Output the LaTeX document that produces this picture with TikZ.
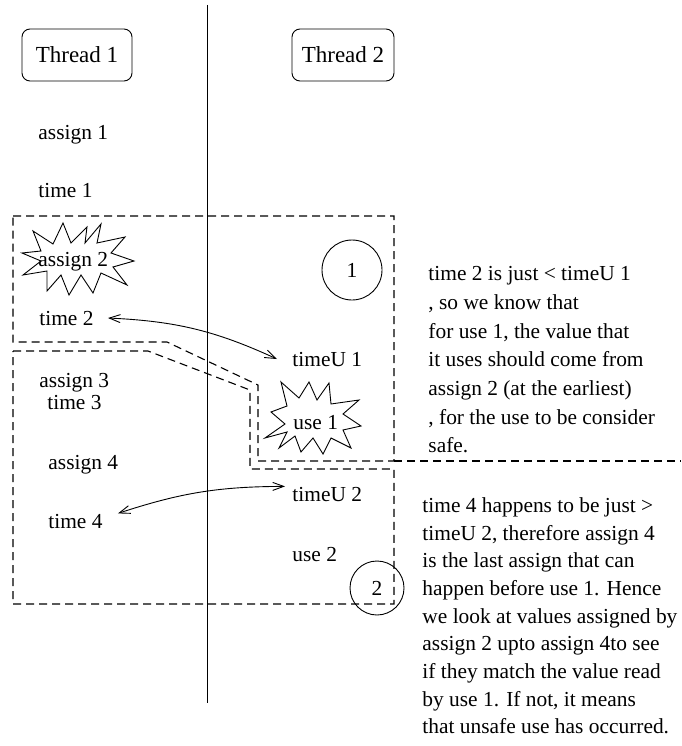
\documentclass[tikz,border=0pt]{standalone}
\usepackage{fontspec}
\setmainfont{Liberation Serif}
\usetikzlibrary{arrows.meta}
\begin{document}
\begin{tikzpicture}[x=1pt,y=-1pt,line width=0.9pt,
  every node/.style={font=\fontsize{21.4pt}{28pt}\selectfont},
  lbl/.style={inner sep=0pt, anchor=base west},
  threadbox/.style={draw, rounded corners=8pt, minimum height=52pt, inner sep=0pt, font=\fontsize{23pt}{28pt}\selectfont},
  region/.style={line width=1.1pt, dash pattern=on 8pt off 5pt},
  starline/.style={line join=miter},
  numcircle/.style={draw, circle, inner sep=0pt},
  dblarrow/.style={{Straight Barb[length=11pt,width=8pt]}-{Straight Barb[length=11pt,width=8pt]}},
  note/.style={inner sep=0pt, anchor=north west, align=left}
]
\useasboundingbox (0,0) rectangle (681,746);

% thread divider
\draw (207,5) -- (207,703);

% thread headers
\node[threadbox, minimum width=110pt] (th1) at (77,55) {Thread 1};
\node[threadbox, minimum width=102pt] (th2) at (343,55) {Thread 2};

% dashed regions
\draw[region] (13,216) -- (394,216) -- (394,461) -- (258,461) -- (258,385) -- (167,342) -- (13,342) -- cycle;
\draw[region] (13,351) -- (148,351) -- (250,390) -- (250,469) -- (394,469) -- (394,604) -- (13,604) -- cycle;
\draw[region] (394,461) -- (681,461);

% starbursts
\begin{scope}[shift={(77,259)}]
\draw[starline] (-55,-6) -- (-36,-8) -- (-44,-28) -- (-24,-15) -- (-14,-36) -- (-6,-16) -- (10,-32) -- (8,-16)
  -- (24,-35) -- (20,-16) -- (48,-22) -- (34,-6) -- (57,2) -- (36,8) -- (50,26) -- (24,14) -- (16,34) -- (4,16)
  -- (-8,36) -- (-16,16) -- (-30,32) -- (-30,12) -- (-54,16) -- (-36,2) -- cycle;
\end{scope}
\begin{scope}[shift={(313,418)}]
\draw[starline] (-48,20) -- (-28,6) -- (-42,-6) -- (-26,-12) -- (-32,-36) -- (-14,-20) -- (-4,-36) -- (4,-18)
  -- (16,-35) -- (18,-14) -- (46,-18) -- (30,-4) -- (48,8) -- (30,12) -- (38,30) -- (18,20) -- (10,36) -- (0,20)
  -- (-12,34) -- (-18,18) -- (-34,30) -- (-26,14) -- cycle;
\end{scope}

% numbered circles
\node[numcircle, minimum size=60pt] (c1) at (352,270) {1};
\node[numcircle, minimum size=54pt] (c2) at (377,588) {2};

% thread 1 events
\node[lbl] (assign1) at (38,140) {assign 1};
\node[lbl] (time1) at (38,197) {time 1};
\node[lbl] (assign2) at (38,266) {assign 2};
\node[lbl] (time2) at (39,325) {time 2};
\node[lbl] (assign3) at (39,387) {assign 3};
\node[lbl] (time3) at (47,409) {time 3};
\node[lbl] (assign4) at (48,469) {assign 4};
\node[lbl] (time4) at (48,528) {time 4};

% thread 2 events
\node[lbl] (timeU1) at (292,366) {timeU 1};
\node[lbl] (use1) at (293,429) {use 1};
\node[lbl] (timeU2) at (292,501) {timeU 2};
\node[lbl] (use2) at (292,561) {use 2};

% connectors
\draw[dblarrow] ([xshift=14pt]time2.east) to[bend left=11] ([xshift=-15pt]timeU1.west);
\draw[dblarrow] ([xshift=15pt]time4.north east) to[bend left=9] ([xshift=-7pt]timeU2.north west);

% notes
\node[note, font=\fontsize{21.4pt}{28.7pt}\selectfont] (note1) at (428,266) {time 2 is just < timeU 1\\, so we know that\\for use 1, the value that\\it uses should come from\\assign 2 (at the earliest)\\, for the use to be consider\\safe.};
\node[note, font=\fontsize{21.4pt}{27.7pt}\selectfont] (note2) at (422,497) {time 4 happens to be just >\\timeU 2, therefore assign 4\\is the last assign that can\\happen before use 1. Hence\\we look at values assigned by\\assign 2 upto assign 4to see\\if they match the value read\\by use 1. If not, it means\\that unsafe use has occurred.};
\end{tikzpicture}
\end{document}
